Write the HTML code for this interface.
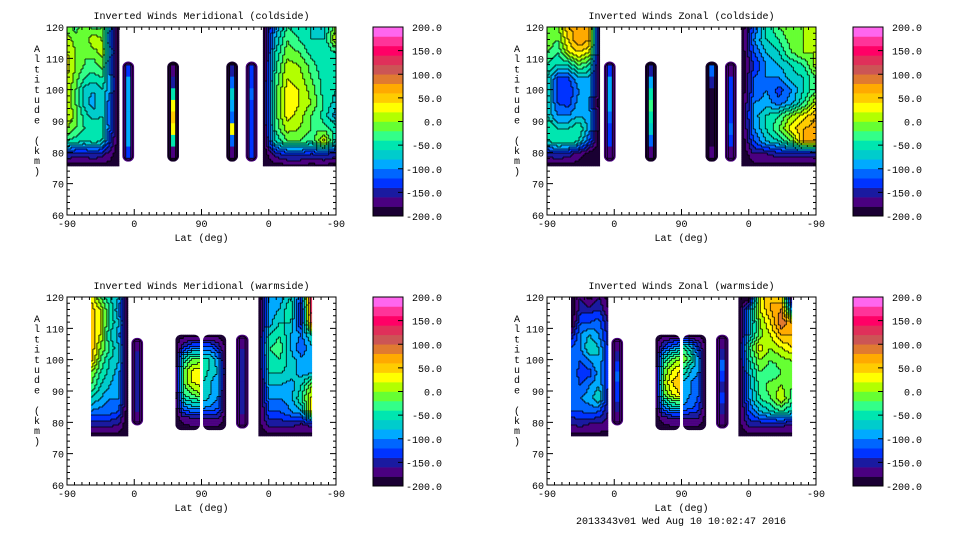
<!DOCTYPE html>
<html><head><meta charset="utf-8">
<style>
body{margin:0;background:#fff;}
svg{display:block;font-family:"Liberation Mono",monospace;font-size:10px;}
</style></head>
<body>
<svg id="fig" width="960" height="540" viewBox="0 0 960 540"></svg>
<script>
// ---- data ----
const panelTitles = ["Inverted Winds Meridional (coldside)","Inverted Winds Zonal (coldside)","Inverted Winds Meridional (warmside)","Inverted Winds Zonal (warmside)"];
const xTickLabels = ["-90","0","90","0","-90"];
const yTickValues = [60,70,80,90,100,110,120];
const cbarTickValues = [200,150,100,50,0,-50,-100,-150,-200];
const levelColors = ["#1a0033","#4a0080","#1a1aa0","#0033ff","#0066ff","#00aaff","#00cccc","#00e6b0","#33ff88","#66ff33","#b3ff00","#ffff00","#ffcc00","#ffaa00","#e07a30","#cc5555","#e0305a","#ff0066","#ff3399","#ff66ee"];
const barCoreMC = [[-140,-100,-100,-90,-90,-90,-100,-140],[-170,-150,-60,20,40,20,-60,-170],[-160,-110,-80,-100,-120,30,-120,-170],[-130,-130,-120,-130,-130,-130,-130,-140]];
const barCoreZC = [[-140,-90,-90,-100,-110,-130,-140,-170],[-150,-90,-60,-40,-50,-70,-110,-170],[-120,-150,-200,-200,-200,-200,-190,-180],[-180,-140,-130,-130,-130,-110,-140,-180]];
const barCoreMW = [[-180,-150,-150,-150,-150,-150,-150,-180],[-180,-150,-150,-150,-150,-150,-150,-180]];
const barCoreZW = [[-180,-150,-130,-110,-130,-140,-150,-180],[-180,-150,-120,-140,-150,-130,-150,-180]];
const gridMC_A = [[-10,-30,0,-30,-20,-100,-200],[10,-10,-20,20,0,-120,-200],[20,0,-20,-10,10,-100,-200],[30,0,-20,-30,-10,-120,-200],[20,-10,-40,-50,-40,-100,-200],[20,-20,-70,-80,-60,-100,-200],[20,-20,-70,-90,-60,-120,-200],[20,-10,-50,-70,-60,-120,-200],[0,-20,-40,-40,-50,-120,-200],[-40,-50,-60,-50,-60,-140,-200],[-140,-150,-150,-140,-150,-170,-200],[-190,-190,-190,-190,-190,-190,-200]];
const gridMC_R = [[-200,-100,-40,-60,-60,-70,0],[-200,-80,-20,-40,-60,-60,20],[-200,-60,-10,-20,-50,-60,-40],[-200,-50,10,0,-30,-60,-60],[-200,-40,20,10,-20,-50,-60],[-200,-30,30,20,-10,-50,-60],[-200,-30,40,20,0,-40,-70],[-200,-30,30,10,-20,-50,-90],[-200,-40,10,0,-20,-30,-50],[-200,-60,-20,-20,-40,30,-60],[-200,-150,-130,-130,-140,-130,-150],[-200,-190,-190,-190,-190,-190,-190]];
const gridZC_A = [[-20,-10,60,70,60,-200],[0,-20,40,80,60,-200],[-20,-40,20,40,20,-200],[-40,-60,-60,-20,-40,-200],[-60,-120,-120,-80,-80,-200],[-60,-130,-140,-100,-90,-200],[-60,-120,-130,-90,-100,-200],[-60,-100,-100,-80,-90,-200],[-40,-60,-60,-40,-90,-200],[-60,-40,-40,-60,-120,-200],[-150,-140,-150,-170,-190,-200],[-190,-190,-190,-190,-190,-200]];
const gridZC_R = [[-200,-120,-60,-20,0,0,0],[-200,-100,-60,-40,-10,0,0],[-200,-120,-80,-60,-20,0,0],[-200,-140,-100,-80,-60,-40,10],[-200,-120,-100,-100,-70,-60,-20],[-200,-120,-100,-130,-100,-60,-20],[-200,-100,-90,-110,-90,-40,20],[-200,-90,-60,-40,0,30,60],[-200,-100,-60,-20,30,60,70],[-200,-120,-80,-60,-20,60,70],[-200,-160,-160,-150,-150,-150,-150],[-200,-190,-190,-190,-190,-190,-190]];
const gridMW_A = [[40,-20,-60,-80,-200],[50,20,-40,-100,-200],[60,20,-40,-80,-200],[60,20,-60,-90,-200],[60,0,-40,-80,-200],[50,-20,-60,-80,-200],[0,-40,-70,-90,-200],[-20,-60,-80,-90,-200],[-60,-80,-100,-100,-200],[-100,-110,-110,-120,-200],[-150,-150,-150,-160,-200],[-190,-190,-190,-190,-200]];
const gridMW_B1 = [[-190,-190,-190,-190],[-190,-150,-120,-120],[-200,-60,-20,-20],[-200,-20,20,30],[-200,-20,20,30],[-200,-40,-20,0],[-190,-100,-80,-80],[-190,-170,-160,-160],[-190,-190,-190,-190]];
const gridMW_B2 = [[-190,-190,-190,-190],[-120,-120,-150,-190],[-60,-60,-100,-190],[-40,-70,-80,-190],[-60,-80,-90,-190],[-60,-80,-100,-190],[-90,-100,-110,-190],[-160,-160,-160,-190],[-190,-190,-190,-190]];
const gridMW_R = [[-200,-100,-90,-60,-120,160],[-200,-90,-80,-40,-160,150],[-200,-90,-60,-60,-150,120],[-200,-60,-40,-80,-100,-60],[-200,-40,-30,-80,-120,-80],[-200,-50,-40,-70,-90,-80],[-200,-60,-60,-70,-90,-80],[-200,-80,-80,-90,-60,0],[-200,-100,-100,-90,-40,30],[-200,-120,-120,-100,-80,40],[-190,-150,-150,-150,-160,-150],[-190,-190,-190,-190,-190,-190]];
const gridZW_A = [[-200,-160,-190,-160,-190],[-200,-150,-150,-140,-180],[-200,-120,-120,-110,-160],[-160,-100,-80,-100,-150],[-120,-100,-60,-80,-140],[-100,-120,-100,-80,-140],[-100,-130,-130,-90,-140],[-100,-120,-100,-80,-140],[-100,-100,-90,-60,-150],[-120,-120,-110,-120,-160],[-160,-150,-160,-160,-170],[-190,-190,-190,-190,-190]];
const gridZW_B1 = [[-190,-190,-190,-190],[-190,-140,-110,-90],[-200,-60,-20,0],[-200,-20,20,40],[-200,0,40,60],[-200,-20,20,40],[-190,-100,-60,-60],[-190,-170,-160,-160],[-190,-190,-190,-190]];
const gridZW_B2 = [[-190,-190,-190,-190],[-40,-80,-140,-190],[0,-40,-100,-190],[-40,-80,-100,-190],[-80,-100,-110,-190],[-90,-100,-120,-190],[-100,-110,-130,-190],[-160,-160,-160,-190],[-190,-190,-190,-190]];
const gridZW_R = [[-200,-200,20,60,40,-200],[-200,-100,20,60,80,-100],[-200,-100,0,40,100,60],[-200,-80,-10,20,60,60],[-200,-40,30,0,20,40],[-200,-60,0,-20,-10,0],[-200,-80,-20,-40,-20,-10],[-200,-90,-30,-10,0,-20],[-200,-100,-40,-20,20,-30],[-200,-120,-80,-60,-40,-60],[-190,-150,-150,-150,-150,-160],[-190,-190,-190,-190,-190,-190]];

function bar(core, edge){ return {core, edge}; }

const panels = [
 {ox:0, oy:0, blobs:[
  {x0:0,x1:70,a0:120,a1:75.5,g:gridMC_A},
  {x0:262,x1:360,a0:120,a1:75.5,g:gridMC_R},
  {x0:74,x1:90,a0:109,a1:77,b:bar(barCoreMC[0],-180)},
  {x0:134,x1:150,a0:109,a1:77,b:bar(barCoreMC[1],-190)},
  {x0:213,x1:229,a0:109,a1:77,b:bar(barCoreMC[2],-190)},
  {x0:239,x1:255,a0:109,a1:77,b:bar(barCoreMC[3],-180)}]},
 {ox:480, oy:0, blobs:[
  {x0:0,x1:71,a0:120,a1:75.5,g:gridZC_A},
  {x0:260,x1:360,a0:120,a1:75.5,g:gridZC_R},
  {x0:76,x1:92,a0:109,a1:77,b:bar(barCoreZC[0],-180)},
  {x0:131,x1:147,a0:109,a1:77,b:bar(barCoreZC[1],-190)},
  {x0:212,x1:229,a0:109,a1:77,b:bar(barCoreZC[2],-190)},
  {x0:238,x1:254,a0:109,a1:77,b:bar(barCoreZC[3],-180)}]},
 {ox:0, oy:270, blobs:[
  {x0:32,x1:82,a0:120,a1:75.5,g:gridMW_A},
  {x0:86,x1:102,a0:107,a1:79,b:bar(barCoreMW[0],-180)},
  {x0:145,x1:178,a0:108,a1:77.5,g:gridMW_B1},
  {x0:182,x1:213,a0:108,a1:77.5,g:gridMW_B2},
  {x0:226,x1:243,a0:108,a1:78,b:bar(barCoreMW[1],-180)},
  {x0:256,x1:328,a0:120,a1:75.5,g:gridMW_R}]},
 {ox:480, oy:270, blobs:[
  {x0:32,x1:82,a0:120,a1:75.5,g:gridZW_A},
  {x0:86,x1:102,a0:107,a1:79,b:bar(barCoreZW[0],-180)},
  {x0:145,x1:178,a0:108,a1:77.5,g:gridZW_B1},
  {x0:182,x1:213,a0:108,a1:77.5,g:gridZW_B2},
  {x0:226,x1:243,a0:108,a1:78,b:bar(barCoreZW[1],-180)},
  {x0:256,x1:328,a0:120,a1:75.5,g:gridZW_R}]}
];

// ---- rendering ----
const NS="http://www.w3.org/2000/svg";
const svg=document.getElementById('fig');
function mk(tag,attrs,parent){const e=document.createElementNS(NS,tag);for(const k in attrs)e.setAttribute(k,attrs[k]);(parent||svg).appendChild(e);return e;}
const PL=67, PR=336, PT=27, PB=215;
const xs=u=>PL+u*(PR-PL)/360;
const ys=a=>PT+(120-a)*(PB-PT)/60;
function lvl(v){let i=Math.floor((v+200)/20);return Math.max(0,Math.min(19,i));}
function sample(g,u,v){const R=g.length,C=g[0].length;const fx=u*(C-1),fy=v*(R-1);const i=Math.min(R-2,Math.floor(fy)),j=Math.min(C-2,Math.floor(fx));const ty=fy-i,tx=fx-j;
 return g[i][j]*(1-tx)*(1-ty)+g[i][j+1]*tx*(1-ty)+g[i+1][j]*(1-tx)*ty+g[i+1][j+1]*tx*ty;}

let clipId=0;
panels.forEach((p,pi)=>{
 const grp=mk('g',{transform:`translate(${p.ox},${p.oy})`});
 
 
 const t=mk('text',{x:(PL+PR)/2,y:19,'text-anchor':'middle'},grp);t.textContent=panelTitles[pi];
 
 
 p.blobs.forEach(b=>{
  const x0=xs(b.x0),x1=xs(b.x1),y0=ys(b.a0),y1=ys(b.a1);
  const id='c'+(clipId++);
  const cp=mk('clipPath',{id},grp);
  const rr=(b.a0>=120)?0:6;
  mk('rect',{x:x0,y:y0,width:x1-x0,height:y1-y0,rx:rr},cp);
  const bg=mk('g',{'clip-path':`url(#${id})`},grp);
  
  
  const w=x1-x0, h=y1-y0;
  if(b.b){
   mk('rect',{x:x0,y:y0,width:w,height:h,fill:levelColors[lvl(b.b.edge)]},bg);
   const m=3.5, ih=h-2*m, n=b.b.core.length;
   b.b.core.forEach((v,i)=>{
    mk('rect',{x:x0+m,y:y0+m+i*ih/n,width:w-2*m,height:ih/n+0.3,fill:levelColors[lvl(v)]},bg);
   });
   mk('rect',{x:x0+m,y:y0+m,width:w-2*m,height:ih,fill:'none',stroke:'#000','stroke-width':0.8},bg);
   mk('rect',{x:x0+1.5,y:y0+1.5,width:w-3,height:h-3,rx:5,fill:'none',stroke:'#000','stroke-width':0.8},bg);
   return;
  }
  const step=2, nx=Math.ceil(w/step), ny=Math.ceil(h/step);
  const L=[];
  for(let r=0;r<ny;r++){L.push([]);for(let c=0;c<nx;c++){
   const v=sample(b.g,Math.min(1,(c*step+1)/w),Math.min(1,(r*step+1)/h));
   const l=lvl(v);L[r].push(l);
   mk('rect',{x:x0+c*step,y:y0+r*step,width:step+0.3,height:step+0.3,fill:levelColors[l]},bg);
  }}
  let d='';
  for(let r=0;r<ny;r++)for(let c=0;c<nx;c++){
   if(c+1<nx&&L[r][c]!==L[r][c+1])d+=`M${x0+(c+1)*step},${y0+r*step}v${step}`;
   if(r+1<ny&&L[r][c]!==L[r+1][c])d+=`M${x0+c*step},${y0+(r+1)*step}h${step}`;
  }
  mk('path',{d,stroke:'#000','stroke-width':0.8,fill:'none'},bg);
 });
 const box=mk('rect',{x:PL,y:PT,width:PR-PL,height:PB-PT,fill:'none',stroke:'#000','stroke-width':1},grp);
 
 
 let d='';
 for(let u=0;u<=360;u+=10){const x=xs(u);const L=(u%90===0)?6:3;d+=`M${x},${PB}v${-L}M${x},${PT}v${L}`;}
 for(let a=60;a<=120;a+=2){const y=ys(a);const L=(a%10===0)?6:3;d+=`M${PL},${y}h${L}M${PR},${y}h${-L}`;}
 mk('path',{d,stroke:'#000','stroke-width':1,fill:'none'},grp);
 xTickLabels.forEach((s,i)=>{const e=mk('text',{x:xs(i*90),y:PB+12,'text-anchor':'middle'},grp);e.textContent=s;
  
  });
 yTickValues.forEach(a=>{const e=mk('text',{x:PL-3,y:ys(a)+4,'text-anchor':'end'},grp);e.textContent=a;
  
  });
 const xl=mk('text',{x:(PL+PR)/2,y:PB+26,'text-anchor':'middle'},grp);xl.textContent='Lat (deg)';
 
 
 const yl=mk('text',{x:37,y:52,'text-anchor':'middle'},grp);
 
 
 'Altitude (km)'.split('').forEach((c,i)=>{const ts=mk('tspan',{x:37,y:52+i*10.2},yl);ts.textContent=c;});
 const CX=373,CW=30,CT=27,CB=216;
 const cb=mk('g',{},grp);
 
 
 levelColors.forEach((c,i)=>{const h=(CB-CT)/20;mk('rect',{x:CX,y:CB-(i+1)*h,width:CW,height:h+0.3,fill:c},cb);});
 mk('rect',{x:CX,y:CT,width:CW,height:CB-CT,fill:'none',stroke:'#000'},cb);
 cbarTickValues.forEach(v=>{const y=CB-(v+200)/400*(CB-CT);
  mk('path',{d:`M${CX+CW-5},${y}h5`,stroke:'#000'},cb);
  const e=mk('text',{x:442,y:y+4,'text-anchor':'end'},cb);e.textContent=v.toFixed(1);
  
  });
});
const ft=mk('text',{x:681,y:524,'text-anchor':'middle'});ft.textContent='2013343v01 Wed Aug 10 10:02:47 2016';


</script>
</body></html>
